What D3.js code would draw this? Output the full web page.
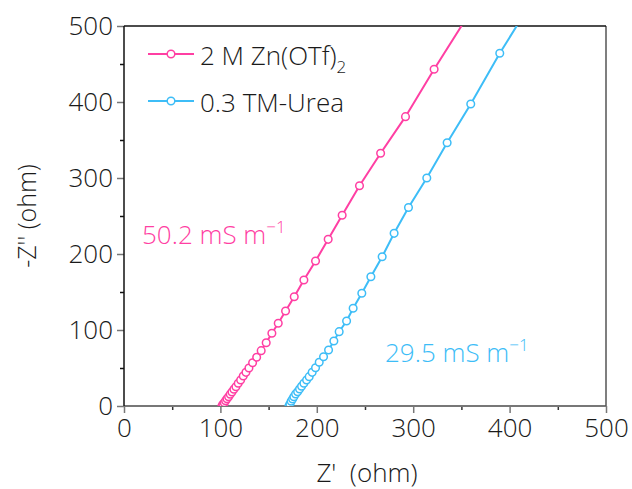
<!DOCTYPE html>
<html>
<head>
<meta charset="utf-8">
<script src="https://cdn.jsdelivr.net/npm/d3@7"></script>
<style>
  body { margin: 0; background: #fff; }
  text { font-family: "Open Sans", "Noto Sans", sans-serif; font-weight: 300; }
</style>
</head>
<body>
<div id="chart"></div>
<script>
// series: Z' (ohm), -Z'' (ohm)
const znX = [101.6, 102.6, 104.0, 105.4, 106.8, 108.5, 110.2, 112.0, 114.0, 116.1, 118.5, 121.0, 123.7, 126.5, 129.6, 133.4, 137.6, 142.3, 147.5, 153.4, 160.0, 167.6, 176.6, 186.6, 198.7, 211.8, 226.3, 244.3, 266.2, 292.0, 321.7, 356.0];
const znY = [0, 2.2, 4.3, 7.0, 9.6, 12.2, 15.4, 18.4, 22.0, 25.4, 29.9, 34.2, 39.5, 44.3, 50.0, 57.0, 64.1, 72.8, 83.3, 95.7, 108.8, 125.0, 143.8, 165.8, 190.8, 219.3, 250.9, 289.9, 332.5, 380.7, 443.0, 512.0];
const tmX = [171.1, 172.1, 173.4, 174.9, 176.2, 178.0, 180.1, 182.1, 184.2, 186.6, 189.4, 192.1, 195.2, 198.7, 202.5, 207.0, 212.2, 217.7, 223.2, 230.9, 237.7, 246.7, 256.1, 267.8, 280.2, 295.1, 314.1, 335.2, 359.7, 389.8, 422.0];
const tmY = [0, 2.6, 6.2, 9.2, 12.2, 15.8, 18.8, 22.4, 25.9, 29.9, 34.2, 38.6, 44.3, 50.4, 57.5, 64.9, 73.7, 85.5, 97.8, 111.8, 128.6, 148.3, 170.1, 196.4, 227.2, 261.2, 300.0, 346.4, 397.4, 464.1, 530.0];

const seriesNames = ["2 M Zn(OTf)", "0.3 TM-Urea"];
const seriesColors = ["#ff3fa3", "#3dbdf7"];
const xTicks = [0, 100, 200, 300, 400, 500];
const yTicks = [0, 100, 200, 300, 400, 500];

const width = 632, height = 489;
const margin = {top: 26, right: 26, bottom: 83, left: 124};
const fs = 26;

const svg = d3.select("#chart").append("svg")
    .attr("width", width)
    .attr("height", height);

const x = d3.scaleLinear().domain([0, 500]).range([margin.left, width - margin.right]);
const y = d3.scaleLinear().domain([0, 500]).range([height - margin.bottom, margin.top]);

svg.append("clipPath").attr("id", "clip")
  .append("rect")
    .attr("x", margin.left).attr("y", margin.top)
    .attr("width", x(500) - x(0)).attr("height", y(0) - y(500));

// minor ticks
svg.append("g")
    .attr("transform", "translate(0," + y(0) + ")")
    .call(d3.axisBottom(x).tickValues([50, 150, 250, 350, 450]).tickSize(4).tickFormat(""))
    .call(g => g.select(".domain").remove())
    .call(g => g.selectAll("line").attr("stroke", "#333").attr("stroke-width", 1.5));
svg.append("g")
    .attr("transform", "translate(" + x(0) + ",0)")
    .call(d3.axisLeft(y).tickValues([50, 150, 250, 350, 450]).tickSize(4).tickFormat(""))
    .call(g => g.select(".domain").remove())
    .call(g => g.selectAll("line").attr("stroke", "#111").attr("stroke-width", 1.5));

// major ticks + labels
const xAxis = svg.append("g")
    .attr("transform", "translate(0," + y(0) + ")")
    .call(d3.axisBottom(x).tickValues(xTicks).tickSize(7).tickPadding(6))
    .call(g => g.select(".domain").remove());
xAxis.selectAll("line").attr("stroke", "#777").attr("stroke-width", 1.5);
xAxis.selectAll("text").attr("font-size", fs).attr("fill", "#1a1a1a").style("font-family", "'Open Sans', sans-serif");

const yAxis = svg.append("g")
    .attr("transform", "translate(" + x(0) + ",0)")
    .call(d3.axisLeft(y).tickValues(yTicks).tickSize(7).tickPadding(4))
    .call(g => g.select(".domain").remove());
yAxis.selectAll("line").attr("stroke", "#777").attr("stroke-width", 1.5);
yAxis.selectAll("text").attr("font-size", fs).attr("fill", "#1a1a1a").style("font-family", "'Open Sans', sans-serif");

// frame
svg.append("line").attr("x1", x(0)).attr("x2", x(500)).attr("y1", y(0)).attr("y2", y(0))
    .attr("stroke", "#777").attr("stroke-width", 2);
svg.append("line").attr("x1", x(500)).attr("x2", x(500)).attr("y1", y(0)).attr("y2", y(500))
    .attr("stroke", "#555").attr("stroke-width", 1.5);
svg.append("line").attr("x1", x(0)).attr("x2", x(500)).attr("y1", y(500)).attr("y2", y(500))
    .attr("stroke", "#111").attr("stroke-width", 1.5);
svg.append("line").attr("x1", x(0)).attr("x2", x(0)).attr("y1", y(0)).attr("y2", y(500))
    .attr("stroke", "#111").attr("stroke-width", 1.5);

// data
const series = [
  {name: seriesNames[0], color: seriesColors[0], pts: znX.map((v, i) => [v, znY[i]])},
  {name: seriesNames[1], color: seriesColors[1], pts: tmX.map((v, i) => [v, tmY[i]])}
];
const line = d3.line().x(d => x(d[0])).y(d => y(d[1]));
const plot = svg.append("g").attr("clip-path", "url(#clip)");
series.forEach(s => {
  plot.append("path")
      .datum(s.pts)
      .attr("d", line)
      .attr("fill", "none")
      .attr("stroke", s.color)
      .attr("stroke-width", 2);
  plot.selectAll(null)
      .data(s.pts)
      .enter()
      .append("circle")
      .attr("cx", d => x(d[0]))
      .attr("cy", d => y(d[1]))
      .attr("r", 3.8)
      .attr("fill", "#fff")
      .attr("stroke", s.color)
      .attr("stroke-width", 1.5);
});

// legend
series.forEach((s, i) => {
  const ly = 54 + i * 47;
  svg.append("line").attr("x1", 148).attr("x2", 194).attr("y1", ly).attr("y2", ly)
      .attr("stroke", s.color).attr("stroke-width", 2);
  svg.append("circle").attr("cx", 171).attr("cy", ly).attr("r", 3.8)
      .attr("fill", "#fff").attr("stroke", s.color).attr("stroke-width", 1.5);
  const t = svg.append("text").attr("x", 200).attr("y", ly + 11)
      .attr("font-size", fs).attr("fill", "#1a1a1a").text(s.name);
  if (i === 0) t.append("tspan").attr("font-size", 17).attr("dy", 8).text("2");
});

// conductivity annotations
function note(tx, ty, label, color) {
  const t = svg.append("text").attr("x", tx).attr("y", ty)
      .attr("font-size", fs).attr("fill", color).text(label + " mS m");
  t.append("tspan").attr("font-size", 17).attr("dy", -11).text("\u22121");
}
note(142, 244, "50.2", seriesColors[0]);
note(385, 362, "29.5", seriesColors[1]);

// axis titles
svg.append("text")
    .attr("x", 367).attr("y", 482)
    .attr("text-anchor", "middle").attr("font-size", fs).attr("fill", "#1a1a1a")
    .attr("xml:space", "preserve")
    .text("Z'  (ohm)");
svg.append("text")
    .attr("transform", "translate(36," + (y(0) + y(500)) / 2 + ") rotate(-90)")
    .attr("text-anchor", "middle").attr("font-size", 25).attr("fill", "#1a1a1a")
    .text("-Z'' (ohm)");
</script>
</body>
</html>
